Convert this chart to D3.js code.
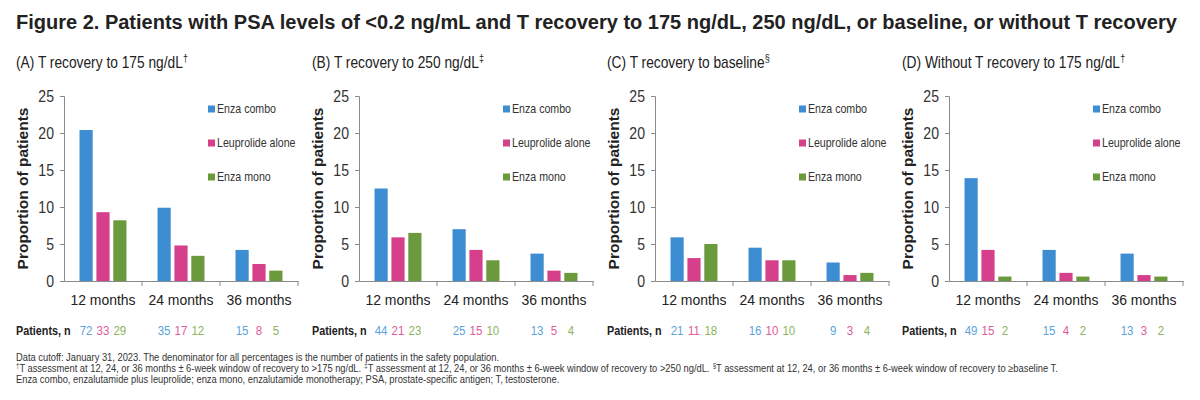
<!DOCTYPE html>
<html>
<head>
<meta charset="utf-8">
<script src="https://cdn.jsdelivr.net/npm/d3@7"></script>
<style>
  body { margin: 0; background: #fff; }
  svg { font-family: "Liberation Sans", Arial, sans-serif; }
</style>
</head>
<body>
<svg id="chart" width="1200" height="400"></svg>
<script>
// data
const months = ['12 months', '24 months', '36 months'];
const series = ['Enza combo', 'Leuprolide alone', 'Enza mono'];
const yTicks = [0, 5, 10, 15, 20, 25];

const panelTitles = [
    ['(A) T recovery to 175 ng/dL', '†'],
    ['(B) T recovery to 250 ng/dL', '‡'],
    ['(C) T recovery to baseline', '§'],
    ['(D) Without T recovery to 175 ng/dL', '†']
];

// proportion of patients, [month][series]
const valuesA = [[20.4, 9.3, 8.2], [9.9, 4.8, 3.4], [4.2, 2.3, 1.4]];
const valuesB = [[12.5, 5.9, 6.5], [7.0, 4.2, 2.8], [3.7, 1.4, 1.1]];
const valuesC = [[5.9, 3.1, 5.0], [4.5, 2.8, 2.8], [2.5, 0.8, 1.1]];
const valuesD = [[13.9, 4.2, 0.6], [4.2, 1.1, 0.6], [3.7, 0.8, 0.6]];

// patients, n
const countsA = [[72, 33, 29], [35, 17, 12], [15, 8, 5]];
const countsB = [[44, 21, 23], [25, 15, 10], [13, 5, 4]];
const countsC = [[21, 11, 18], [16, 10, 10], [9, 3, 4]];
const countsD = [[49, 15, 2], [15, 4, 2], [13, 3, 2]];

const panelValues = [valuesA, valuesB, valuesC, valuesD];
const panelCounts = [countsA, countsB, countsC, countsD];

const barColors = ['#3d8dd3', '#d6408a', '#6b9a3c'];
const countColors = ['#5aa3dc', '#dd5b9b', '#8cb35c'];

const svg = d3.select('#chart');

// the source figure was squeezed sideways a little, so narrow the text to match
function squeeze(sel, k) {
    sel.each(function () {
        const x = +this.getAttribute('x') || 0;
        const prev = this.getAttribute('transform') || '';
        d3.select(this).attr('transform', `${prev} translate(${x},0) scale(${k},1) translate(${-x},0)`);
    });
}

// a line made of separate pieces, some of them superscript
function richLine(parent, x, y, pieces, size, k, attrs) {
    let cx = x;
    pieces.forEach(([txt, sup]) => {
        const el = parent.append('text')
            .attr('x', cx)
            .attr('y', sup ? y - size * 0.38 : y)
            .attr('font-size', sup ? size * 0.65 : size)
            .style('white-space', 'pre')
            .text(txt);
        Object.entries(attrs || {}).forEach(([a, v]) => el.attr(a, v));
        cx += el.node().getComputedTextLength() * k;
        el.call(squeeze, k);
    });
}

// figure title
svg.append('text')
    .attr('x', 16).attr('y', 29)
    .attr('font-size', 20).attr('font-weight', 'bold').attr('fill', '#222')
    .text('Figure 2. Patients with PSA levels of <0.2 ng/mL and T recovery to 175 ng/dL, 250 ng/dL, or baseline, or without T recovery');

const axisStarts = [64, 359, 655, 949];
const titleStarts = [16, 312, 607, 902];
const plotW = 234;
const yTop = 96, yBottom = 281;

const y = d3.scaleLinear().domain([0, 25]).range([yBottom, yTop]);

panelValues.forEach((vals, p) => {
    const x0 = axisStarts[p];
    const g = svg.append('g');

    // panel title
    richLine(g, titleStarts[p], 68,
        [[panelTitles[p][0], false], [panelTitles[p][1], true]],
        16, 0.86, { fill: '#222' });

    const x = d3.scaleBand().domain(months).range([x0, x0 + plotW]).padding(0);
    const xs = d3.scaleBand().domain(series).range([0, x.bandwidth()])
        .paddingInner(0.22).paddingOuter(0.92);

    // y axis
    const yAxis = g.append('g')
        .attr('transform', `translate(${x0},0)`)
        .call(d3.axisLeft(y).tickValues(yTicks).tickSize(4).tickPadding(6));
    yAxis.select('.domain').attr('stroke', '#8a8a8a');
    yAxis.selectAll('.tick line').attr('stroke', '#8a8a8a');
    yAxis.selectAll('.tick text').attr('font-size', 16).attr('fill', '#333')
        .attr('font-family', '"Liberation Sans", Arial, sans-serif')
        .call(squeeze, 0.88);

    // x axis
    const xAxis = g.append('g')
        .attr('transform', `translate(0,${yBottom})`)
        .call(d3.axisBottom(x).tickSize(0).tickPadding(13));
    xAxis.select('.domain').attr('stroke', '#8a8a8a');
    xAxis.selectAll('.tick text').attr('font-size', 15.5).attr('fill', '#222')
        .attr('font-family', '"Liberation Sans", Arial, sans-serif')
        .call(squeeze, 0.9);
    // category boundary ticks
    g.selectAll('.sep')
        .data(months)
        .enter().append('line')
        .attr('x1', (d, i) => x.range()[0] + x.step() * (i + 1))
        .attr('x2', (d, i) => x.range()[0] + x.step() * (i + 1))
        .attr('y1', yBottom).attr('y2', yBottom + 5)
        .attr('stroke', '#8a8a8a');

    // y label
    g.append('text')
        .attr('transform', `translate(${x0 - 36},${(yTop + yBottom) / 2}) rotate(-90)`)
        .attr('text-anchor', 'middle')
        .attr('font-size', 15.5).attr('font-weight', 'bold').attr('fill', '#222')
        .text('Proportion of patients');

    // bars
    const groups = g.selectAll('.grp')
        .data(vals)
        .enter().append('g')
        .attr('transform', (d, i) => `translate(${x(months[i])},0)`);
    groups.selectAll('rect')
        .data(d => d)
        .enter().append('rect')
        .attr('x', (d, i) => xs(series[i]))
        .attr('width', xs.bandwidth())
        .attr('y', d => y(d))
        .attr('height', d => yBottom - y(d))
        .attr('fill', (d, i) => barColors[i]);

    // legend
    series.forEach((s, i) => {
        const ly = 109 + i * 34;
        g.append('rect')
            .attr('x', x0 + 144).attr('y', ly - 3.5)
            .attr('width', 7).attr('height', 7)
            .attr('fill', barColors[i]);
        g.append('text')
            .attr('x', x0 + 153).attr('y', ly + 4.5)
            .attr('font-size', 12.5).attr('fill', '#333')
            .text(s)
            .call(squeeze, 0.85);
    });

    // patients, n row
    g.append('text')
        .attr('x', titleStarts[p]).attr('y', 335)
        .attr('font-size', 13.5).attr('font-weight', 'bold').attr('fill', '#222')
        .text('Patients, n')
        .call(squeeze, 0.8);
    panelCounts[p].forEach((row, m) => {
        row.forEach((n, i) => {
            g.append('text')
                .attr('x', x(months[m]) + xs(series[i]) + xs.bandwidth() / 2)
                .attr('y', 335)
                .attr('text-anchor', 'middle')
                .attr('font-size', 13.5).attr('fill', countColors[i])
                .text(n)
                .call(squeeze, 0.85);
        });
    });
});

// footnotes
const foot = svg.append('g').attr('fill', '#333');
richLine(foot, 16, 361,
    [['Data cutoff: January 31, 2023. The denominator for all percentages is the number of patients in the safety population.', false]],
    10.5, 0.89);
richLine(foot, 16, 372, [
    ['†', true], ['T assessment at 12, 24, or 36 months ± 6-week window of recovery to >175 ng/dL. ', false],
    ['‡', true], ['T assessment at 12, 24, or 36 months ± 6-week window of recovery to >250 ng/dL. ', false],
    ['§', true], ['T assessment at 12, 24, or 36 months ± 6-week window of recovery to ≥baseline T.', false]
], 10.5, 0.89);
richLine(foot, 16, 383,
    [['Enza combo, enzalutamide plus leuprolide; enza mono, enzalutamide monotherapy; PSA, prostate-specific antigen; T, testosterone.', false]],
    10.5, 0.89);
</script>
</body>
</html>
